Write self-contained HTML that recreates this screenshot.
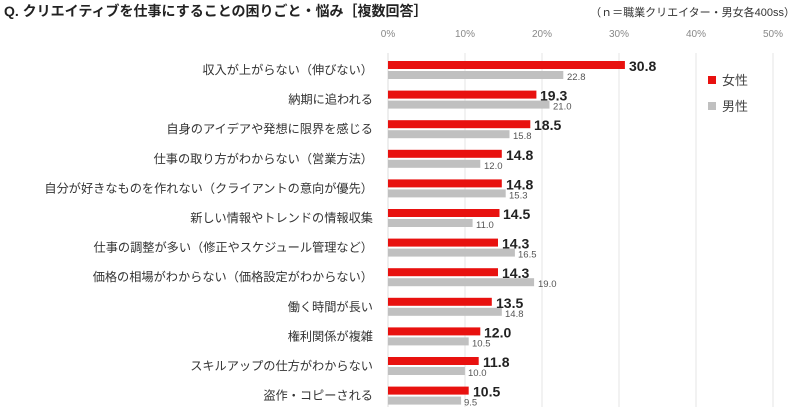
<!DOCTYPE html>
<html><head><meta charset="utf-8"><style>
body{margin:0;background:#fff;}
svg{display:block;font-family:"Liberation Sans","Noto Sans CJK JP",sans-serif;}
.l{font-size:12.2px;fill:#333;text-anchor:end}
.r{fill:#e8110f}.g{fill:#c0c0c0}
.v{font-size:14px;font-weight:bold;fill:#222}
.w{font-size:9.5px;fill:#555}
</style></head><body>
<svg width="800" height="407" xmlns="http://www.w3.org/2000/svg">
<text x="4" y="16" font-size="14" font-weight="bold" fill="#222">Q. クリエイティブを仕事にすることの困りごと・悩み［複数回答］</text>
<text x="795" y="16" font-size="11" fill="#333" text-anchor="end">（ｎ＝職業クリエイター・男女各400ss）</text>
<g font-size="10" fill="#888" text-anchor="middle">
<text x="388" y="37">0%</text><text x="465" y="37">10%</text><text x="542" y="37">20%</text><text x="619" y="37">30%</text><text x="696" y="37">40%</text><text x="773" y="37">50%</text>
</g>
<g stroke="#e4e4e4" stroke-width="1">
<line x1="465" y1="53" x2="465" y2="407"/><line x1="542" y1="53" x2="542" y2="407"/><line x1="619" y1="53" x2="619" y2="407"/><line x1="696" y1="53" x2="696" y2="407"/><line x1="773" y1="53" x2="773" y2="407"/>
</g>
<line x1="388" y1="53" x2="388" y2="407" stroke="#ddd"/>

<g transform="translate(0,61)"><text class="l" x="373" y="13">収入が上がらない（伸びない）</text><rect class="r" x="388" y="0" width="236.9" height="8"/><rect class="g" x="388" y="10" width="175.3" height="8"/><text class="v" x="629" y="10">30.8</text><text class="w" x="567" y="19">22.8</text></g>
<g transform="translate(0,90.6)"><text class="l" x="373" y="13">納期に追われる</text><rect class="r" x="388" y="0" width="148.4" height="8"/><rect class="g" x="388" y="10" width="161.5" height="8"/><text class="v" x="540" y="10">19.3</text><text class="w" x="553" y="19">21.0</text></g>
<g transform="translate(0,120.2)"><text class="l" x="373" y="13">自身のアイデアや発想に限界を感じる</text><rect class="r" x="388" y="0" width="142.3" height="8"/><rect class="g" x="388" y="10" width="121.5" height="8"/><text class="v" x="534" y="10">18.5</text><text class="w" x="513" y="19">15.8</text></g>
<g transform="translate(0,149.8)"><text class="l" x="373" y="13">仕事の取り方がわからない（営業方法）</text><rect class="r" x="388" y="0" width="113.8" height="8"/><rect class="g" x="388" y="10" width="92.3" height="8"/><text class="v" x="506" y="10">14.8</text><text class="w" x="484" y="19">12.0</text></g>
<g transform="translate(0,179.4)"><text class="l" x="373" y="13">自分が好きなものを作れない（クライアントの意向が優先）</text><rect class="r" x="388" y="0" width="113.8" height="8"/><rect class="g" x="388" y="10" width="117.7" height="8"/><text class="v" x="506" y="10">14.8</text><text class="w" x="509" y="19">15.3</text></g>
<g transform="translate(0,209)"><text class="l" x="373" y="13">新しい情報やトレンドの情報収集</text><rect class="r" x="388" y="0" width="111.5" height="8"/><rect class="g" x="388" y="10" width="84.6" height="8"/><text class="v" x="503" y="10">14.5</text><text class="w" x="476" y="19">11.0</text></g>
<g transform="translate(0,238.6)"><text class="l" x="373" y="13">仕事の調整が多い（修正やスケジュール管理など）</text><rect class="r" x="388" y="0" width="110" height="8"/><rect class="g" x="388" y="10" width="126.9" height="8"/><text class="v" x="502" y="10">14.3</text><text class="w" x="518" y="19">16.5</text></g>
<g transform="translate(0,268.2)"><text class="l" x="373" y="13">価格の相場がわからない（価格設定がわからない）</text><rect class="r" x="388" y="0" width="110" height="8"/><rect class="g" x="388" y="10" width="146.1" height="8"/><text class="v" x="502" y="10">14.3</text><text class="w" x="538" y="19">19.0</text></g>
<g transform="translate(0,297.8)"><text class="l" x="373" y="13">働く時間が長い</text><rect class="r" x="388" y="0" width="103.8" height="8"/><rect class="g" x="388" y="10" width="113.8" height="8"/><text class="v" x="496" y="10">13.5</text><text class="w" x="505" y="19">14.8</text></g>
<g transform="translate(0,327.4)"><text class="l" x="373" y="13">権利関係が複雑</text><rect class="r" x="388" y="0" width="92.3" height="8"/><rect class="g" x="388" y="10" width="80.7" height="8"/><text class="v" x="484" y="10">12.0</text><text class="w" x="472" y="19">10.5</text></g>
<g transform="translate(0,357)"><text class="l" x="373" y="13">スキルアップの仕方がわからない</text><rect class="r" x="388" y="0" width="90.7" height="8"/><rect class="g" x="388" y="10" width="76.9" height="8"/><text class="v" x="483" y="10">11.8</text><text class="w" x="468" y="19">10.0</text></g>
<g transform="translate(0,386.6)"><text class="l" x="373" y="13">盗作・コピーされる</text><rect class="r" x="388" y="0" width="80.7" height="8"/><rect class="g" x="388" y="10" width="73.1" height="8"/><text class="v" x="473" y="10">10.5</text><text class="w" x="464" y="19">9.5</text></g>

<rect x="708" y="76" width="8" height="8" fill="#e8110f"/><text x="722" y="85" font-size="13" fill="#444">女性</text>
<rect x="708" y="102" width="8" height="8" fill="#c0c0c0"/><text x="722" y="111" font-size="13" fill="#444">男性</text>
</svg>
</body></html>
